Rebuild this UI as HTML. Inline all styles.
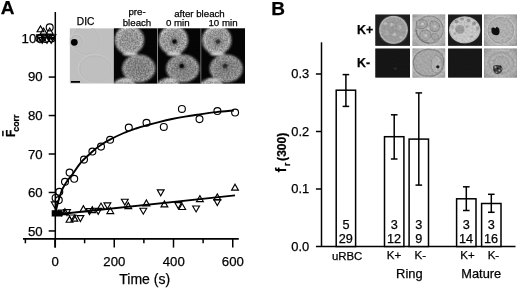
<!DOCTYPE html>
<html><head><meta charset="utf-8"><title>Figure</title>
<style>
html,body{margin:0;padding:0;background:#fff;width:520px;height:288px;overflow:hidden;}
svg{display:block;font-family:"Liberation Sans", sans-serif;will-change:transform;}
</style></head>
<body>
<svg width="520" height="288" viewBox="0 0 520 288" font-family='"Liberation Sans", sans-serif' fill="#000"><style>text{stroke:#000;stroke-width:0.25px;}</style><text x="0.63" y="14.25" font-size="19" text-anchor="start" font-weight="bold" >A</text>
<line x1="55.30" y1="12.00" x2="55.30" y2="247.60" stroke="#000" stroke-width="1.5"/>
<line x1="23.00" y1="238.80" x2="238.80" y2="238.80" stroke="#000" stroke-width="1.7"/>
<line x1="48.70" y1="38.60" x2="55.30" y2="38.60" stroke="#000" stroke-width="1.5"/>
<text x="21.59" y="42.90" font-size="13.2" text-anchor="start" font-weight="normal" >100</text>
<line x1="48.70" y1="77.07" x2="55.30" y2="77.07" stroke="#000" stroke-width="1.5"/>
<text x="27.93" y="81.25" font-size="13.2" text-anchor="start" font-weight="normal" >90</text>
<line x1="48.70" y1="115.54" x2="55.30" y2="115.54" stroke="#000" stroke-width="1.5"/>
<text x="27.93" y="119.80" font-size="13.2" text-anchor="start" font-weight="normal" >80</text>
<line x1="48.70" y1="154.01" x2="55.30" y2="154.01" stroke="#000" stroke-width="1.5"/>
<text x="27.93" y="159.10" font-size="13.2" text-anchor="start" font-weight="normal" >70</text>
<line x1="48.70" y1="192.48" x2="55.30" y2="192.48" stroke="#000" stroke-width="1.5"/>
<text x="27.93" y="197.20" font-size="13.2" text-anchor="start" font-weight="normal" >60</text>
<line x1="48.70" y1="230.95" x2="55.30" y2="230.95" stroke="#000" stroke-width="1.5"/>
<text x="27.93" y="235.60" font-size="13.2" text-anchor="start" font-weight="normal" >50</text>
<line x1="55.00" y1="238.80" x2="55.00" y2="247.60" stroke="#000" stroke-width="1.5"/>
<text x="51.53" y="266.10" font-size="13.2" text-anchor="start" font-weight="normal" >0</text>
<line x1="114.25" y1="238.80" x2="114.25" y2="247.60" stroke="#000" stroke-width="1.5"/>
<text x="103.36" y="266.10" font-size="13.2" text-anchor="start" font-weight="normal" >200</text>
<line x1="173.50" y1="238.80" x2="173.50" y2="247.60" stroke="#000" stroke-width="1.5"/>
<text x="162.79" y="266.10" font-size="13.2" text-anchor="start" font-weight="normal" >400</text>
<line x1="232.75" y1="238.80" x2="232.75" y2="247.60" stroke="#000" stroke-width="1.5"/>
<text x="221.86" y="266.10" font-size="13.2" text-anchor="start" font-weight="normal" >600</text>
<line x1="25.38" y1="238.80" x2="25.38" y2="243.30" stroke="#000" stroke-width="1.5"/>
<line x1="84.62" y1="238.80" x2="84.62" y2="243.30" stroke="#000" stroke-width="1.5"/>
<line x1="143.88" y1="238.80" x2="143.88" y2="243.30" stroke="#000" stroke-width="1.5"/>
<line x1="203.12" y1="238.80" x2="203.12" y2="243.30" stroke="#000" stroke-width="1.5"/>
<text x="119.31" y="284.20" font-size="14" text-anchor="start" font-weight="normal" >Time (s)</text>
<g transform="translate(14.7,136.5) rotate(-90)"><text x="-0.5" y="0" font-size="12.2" font-weight="bold" text-anchor="start">F</text><line x1="0.2" y1="-11.8" x2="5.7" y2="-11.8" stroke="#000" stroke-width="1.5"/><text x="4.8" y="4.1" font-size="8.8" font-weight="bold" text-anchor="start">corr</text></g>
<text x="76.84" y="25.20" font-size="10.2" text-anchor="start" font-weight="normal" >DIC</text>
<text x="128.43" y="14.60" font-size="9.7" text-anchor="start" font-weight="normal" >pre-</text>
<text x="122.71" y="25.60" font-size="9.7" text-anchor="start" font-weight="normal" >bleach</text>
<text x="174.14" y="17.30" font-size="9.7" text-anchor="start" font-weight="normal" >after bleach</text>
<text x="165.92" y="25.60" font-size="9.7" text-anchor="start" font-weight="normal" >0 min</text>
<text x="208.49" y="25.60" font-size="9.7" text-anchor="start" font-weight="normal" >10 min</text>
<defs><radialGradient id="cellg" cx="0.5" cy="0.5" r="0.5"><stop offset="0" stop-color="#8e8e8e"/><stop offset="0.72" stop-color="#989898"/><stop offset="0.9" stop-color="#acacac"/><stop offset="0.97" stop-color="#7a7a7a"/><stop offset="1" stop-color="#202020"/></radialGradient><radialGradient id="cellg2" cx="0.5" cy="0.5" r="0.5"><stop offset="0" stop-color="#7c7c7c"/><stop offset="0.72" stop-color="#868686"/><stop offset="0.9" stop-color="#9c9c9c"/><stop offset="0.97" stop-color="#6a6a6a"/><stop offset="1" stop-color="#1a1a1a"/></radialGradient><radialGradient id="spot" cx="0.5" cy="0.5" r="0.5"><stop offset="0" stop-color="#000"/><stop offset="0.3" stop-color="#000" stop-opacity="0.85"/><stop offset="0.55" stop-color="#303030" stop-opacity="0.35"/><stop offset="1" stop-color="#404040" stop-opacity="0"/></radialGradient><linearGradient id="halo" x1="0" y1="0" x2="0" y2="1"><stop offset="0" stop-color="#fff" stop-opacity="0"/><stop offset="0.6" stop-color="#fff" stop-opacity="0.7"/><stop offset="1" stop-color="#fff" stop-opacity="0"/></linearGradient><filter id="noiseA" filterUnits="userSpaceOnUse" x="113" y="28" width="133" height="56" color-interpolation-filters="sRGB"><feTurbulence type="fractalNoise" baseFrequency="0.6" numOctaves="2" seed="3" result="t"/><feColorMatrix in="t" type="matrix" values="1 0 0 0 0  1 0 0 0 0  1 0 0 0 0  0 0 0 0 1" result="g"/><feComponentTransfer in="g" result="gc"><feFuncR type="linear" slope="2.0" intercept="-0.5"/><feFuncG type="linear" slope="2.0" intercept="-0.5"/><feFuncB type="linear" slope="2.0" intercept="-0.5"/></feComponentTransfer><feComposite in="SourceGraphic" in2="gc" operator="arithmetic" k1="0.4" k2="0.8" k3="0" k4="0"/><feGaussianBlur stdDeviation="0.6"/></filter><filter id="blur1" x="-20%" y="-20%" width="140%" height="140%"><feGaussianBlur stdDeviation="0.6"/></filter><filter id="blurC" filterUnits="userSpaceOnUse" x="100" y="20" width="160" height="80"><feGaussianBlur stdDeviation="0.8"/></filter><clipPath id="c0"><rect x="69.6" y="28.2" width="43.9" height="55.5"/></clipPath><clipPath id="c1"><rect x="113.5" y="28.2" width="44" height="55.5"/></clipPath><clipPath id="c2"><rect x="157.5" y="28.2" width="43.4" height="55.5"/></clipPath><clipPath id="c3"><rect x="200.9" y="28.2" width="44.2" height="55.5"/></clipPath></defs>
<g clip-path="url(#c0)"><rect x="69.6" y="28.2" width="43.9" height="55.5" fill="#bfbfbf"/><g filter="url(#blur1)"><circle cx="85.5" cy="40" r="14.8" fill="none" stroke="#c8c8c8" stroke-width="1.0"/><circle cx="86" cy="40.5" r="13.8" fill="none" stroke="#b6b6b6" stroke-width="0.8"/><ellipse cx="95" cy="68.5" rx="16.8" ry="14" fill="none" stroke="#c8c8c8" stroke-width="1.0"/><ellipse cx="95.5" cy="69" rx="15.8" ry="13" fill="none" stroke="#b7b7b7" stroke-width="0.8"/><circle cx="76" cy="41" r="7" fill="none" stroke="#cacaca" stroke-width="1.0"/><circle cx="76.5" cy="41.5" r="6" fill="none" stroke="#b2b2b2" stroke-width="0.8"/><circle cx="74.3" cy="42.3" r="3.4" fill="#000"/></g><line x1="70.9" y1="81.9" x2="80" y2="81.9" stroke="#000" stroke-width="1.6"/></g>
<g clip-path="url(#c1)"><g filter="url(#noiseA)"><rect x="113.5" y="28.2" width="44.2" height="55.5" fill="#050505"/><g filter="url(#blurC)"><ellipse cx="138.7" cy="68.5" rx="16.9" ry="14.2" fill="url(#cellg2)"/><circle cx="129.4" cy="40" r="14.9" fill="url(#cellg)"/><circle cx="124.0" cy="93" r="15" fill="url(#cellg)"/><path d="M117.0,36 A12.5,12.5 0 0 1 127.5,27.6" fill="none" stroke="#fff" stroke-opacity="0.35" stroke-width="2"/></g></g><ellipse cx="130.0" cy="54.0" rx="7.5" ry="1.6" fill="#f4f4f4" opacity="0.85" filter="url(#blurC)"/><ellipse cx="126.5" cy="79.8" rx="6.5" ry="1.4" fill="#eeeeee" opacity="0.7" filter="url(#blurC)"/></g>
<g clip-path="url(#c2)"><g filter="url(#noiseA)"><rect x="157.5" y="28.2" width="44.2" height="55.5" fill="#050505"/><g filter="url(#blurC)"><ellipse cx="182.7" cy="68.5" rx="16.9" ry="14.2" fill="url(#cellg2)"/><circle cx="173.4" cy="40" r="14.9" fill="url(#cellg)"/><circle cx="168.0" cy="93" r="15" fill="url(#cellg)"/><path d="M161.0,36 A12.5,12.5 0 0 1 171.5,27.6" fill="none" stroke="#fff" stroke-opacity="0.35" stroke-width="2"/></g></g><ellipse cx="174.0" cy="54.0" rx="7.5" ry="1.6" fill="#f4f4f4" opacity="0.85" filter="url(#blurC)"/><ellipse cx="170.5" cy="79.8" rx="6.5" ry="1.4" fill="#eeeeee" opacity="0.7" filter="url(#blurC)"/><circle cx="174.5" cy="41.6" r="5.5" fill="url(#spot)" opacity="1.0"/><circle cx="181.7" cy="66" r="5.5" fill="url(#spot)" opacity="1.0"/></g>
<g clip-path="url(#c3)"><g filter="url(#noiseA)"><rect x="200.9" y="28.2" width="44.2" height="55.5" fill="#050505"/><g filter="url(#blurC)"><ellipse cx="226.1" cy="68.5" rx="16.9" ry="14.2" fill="url(#cellg2)"/><circle cx="216.8" cy="40" r="14.9" fill="url(#cellg)"/><circle cx="211.4" cy="93" r="15" fill="url(#cellg)"/><path d="M204.4,36 A12.5,12.5 0 0 1 214.9,27.6" fill="none" stroke="#fff" stroke-opacity="0.35" stroke-width="2"/></g></g><ellipse cx="217.4" cy="54.0" rx="7.5" ry="1.6" fill="#f4f4f4" opacity="0.85" filter="url(#blurC)"/><ellipse cx="213.9" cy="79.8" rx="6.5" ry="1.4" fill="#eeeeee" opacity="0.7" filter="url(#blurC)"/><circle cx="217.9" cy="41.6" r="5.5" fill="url(#spot)" opacity="0.72"/><circle cx="225.1" cy="66" r="5.5" fill="url(#spot)" opacity="0.72"/></g>
<line x1="157.50" y1="28.20" x2="157.50" y2="83.70" stroke="#9a9a9a" stroke-width="0.6"/>
<line x1="200.90" y1="28.20" x2="200.90" y2="83.70" stroke="#9a9a9a" stroke-width="0.6"/>
<path d="M55.60,212.50 C55.77,211.73 56.12,209.90 56.60,207.90 C57.08,205.90 57.67,203.32 58.50,200.50 C59.33,197.68 60.75,193.27 61.60,191.00 C62.45,188.73 62.62,188.65 63.60,186.90 C64.58,185.15 66.12,182.47 67.50,180.50 C68.88,178.53 69.78,177.97 71.90,175.10 C74.02,172.23 77.65,166.43 80.20,163.30 C82.75,160.17 84.77,158.62 87.20,156.30 C89.63,153.98 92.33,151.42 94.80,149.40 C97.27,147.38 99.48,145.83 102.00,144.20 C104.52,142.57 106.27,141.47 109.90,139.60 C113.53,137.73 119.45,134.85 123.80,133.00 C128.15,131.15 132.32,129.75 136.00,128.50 C139.68,127.25 141.93,126.62 145.90,125.50 C149.87,124.38 155.45,122.88 159.80,121.80 C164.15,120.72 167.80,119.87 172.00,119.00 C176.20,118.13 180.80,117.32 185.00,116.60 C189.20,115.88 192.00,115.45 197.20,114.70 C202.40,113.95 210.10,112.80 216.20,112.10 C222.30,111.40 230.87,110.77 233.80,110.50" fill="none" stroke="#000" stroke-width="1.9"/>
<line x1="55.60" y1="214.50" x2="235.00" y2="195.40" stroke="#000" stroke-width="1.9"/>
<circle cx="69.60" cy="172.60" r="3.45" fill="none" stroke="#000" stroke-width="1.15"/>
<circle cx="74.20" cy="178.80" r="3.45" fill="none" stroke="#000" stroke-width="1.15"/>
<circle cx="65.00" cy="181.80" r="3.45" fill="none" stroke="#000" stroke-width="1.15"/>
<circle cx="59.30" cy="191.80" r="3.45" fill="none" stroke="#000" stroke-width="1.15"/>
<circle cx="55.60" cy="197.90" r="3.45" fill="none" stroke="#000" stroke-width="1.15"/>
<circle cx="58.80" cy="200.10" r="3.45" fill="none" stroke="#000" stroke-width="1.15"/>
<circle cx="84.00" cy="159.60" r="3.45" fill="none" stroke="#000" stroke-width="1.15"/>
<circle cx="92.40" cy="151.50" r="3.45" fill="none" stroke="#000" stroke-width="1.15"/>
<circle cx="101.00" cy="146.60" r="3.45" fill="none" stroke="#000" stroke-width="1.15"/>
<circle cx="110.10" cy="139.80" r="3.45" fill="none" stroke="#000" stroke-width="1.15"/>
<circle cx="128.80" cy="127.50" r="3.45" fill="none" stroke="#000" stroke-width="1.15"/>
<circle cx="146.50" cy="122.80" r="3.45" fill="none" stroke="#000" stroke-width="1.15"/>
<circle cx="163.80" cy="126.90" r="3.45" fill="none" stroke="#000" stroke-width="1.15"/>
<circle cx="181.90" cy="108.90" r="3.45" fill="none" stroke="#000" stroke-width="1.15"/>
<circle cx="199.50" cy="119.10" r="3.45" fill="none" stroke="#000" stroke-width="1.15"/>
<circle cx="217.40" cy="111.00" r="3.45" fill="none" stroke="#000" stroke-width="1.15"/>
<circle cx="235.10" cy="112.50" r="3.45" fill="none" stroke="#000" stroke-width="1.15"/>
<polygon points="61.50,214.56 68.30,214.56 64.90,208.64" fill="none" stroke="#000" stroke-width="1.15" stroke-linejoin="miter"/>
<polygon points="66.10,222.26 72.90,222.26 69.50,216.34" fill="none" stroke="#000" stroke-width="1.15" stroke-linejoin="miter"/>
<polygon points="71.00,221.16 77.80,221.16 74.40,215.24" fill="none" stroke="#000" stroke-width="1.15" stroke-linejoin="miter"/>
<polygon points="80.00,211.66 86.80,211.66 83.40,205.74" fill="none" stroke="#000" stroke-width="1.15" stroke-linejoin="miter"/>
<polygon points="88.90,212.56 95.70,212.56 92.30,206.64" fill="none" stroke="#000" stroke-width="1.15" stroke-linejoin="miter"/>
<polygon points="97.60,208.96 104.40,208.96 101.00,203.04" fill="none" stroke="#000" stroke-width="1.15" stroke-linejoin="miter"/>
<polygon points="106.90,213.56 113.70,213.56 110.30,207.64" fill="none" stroke="#000" stroke-width="1.15" stroke-linejoin="miter"/>
<polygon points="124.90,208.66 131.70,208.66 128.30,202.74" fill="none" stroke="#000" stroke-width="1.15" stroke-linejoin="miter"/>
<polygon points="143.00,205.86 149.80,205.86 146.40,199.94" fill="none" stroke="#000" stroke-width="1.15" stroke-linejoin="miter"/>
<polygon points="161.00,206.86 167.80,206.86 164.40,200.94" fill="none" stroke="#000" stroke-width="1.15" stroke-linejoin="miter"/>
<polygon points="178.80,209.46 185.60,209.46 182.20,203.54" fill="none" stroke="#000" stroke-width="1.15" stroke-linejoin="miter"/>
<polygon points="196.50,201.56 203.30,201.56 199.90,195.64" fill="none" stroke="#000" stroke-width="1.15" stroke-linejoin="miter"/>
<polygon points="213.90,199.86 220.70,199.86 217.30,193.94" fill="none" stroke="#000" stroke-width="1.15" stroke-linejoin="miter"/>
<polygon points="231.60,190.16 238.40,190.16 235.00,184.24" fill="none" stroke="#000" stroke-width="1.15" stroke-linejoin="miter"/>
<polygon points="51.30,201.94 58.10,201.94 54.70,207.86" fill="none" stroke="#000" stroke-width="1.15" stroke-linejoin="miter"/>
<polygon points="68.90,215.04 75.70,215.04 72.30,220.96" fill="none" stroke="#000" stroke-width="1.15" stroke-linejoin="miter"/>
<polygon points="77.00,215.64 83.80,215.64 80.40,221.56" fill="none" stroke="#000" stroke-width="1.15" stroke-linejoin="miter"/>
<polygon points="86.10,208.64 92.90,208.64 89.50,214.56" fill="none" stroke="#000" stroke-width="1.15" stroke-linejoin="miter"/>
<polygon points="94.80,208.34 101.60,208.34 98.20,214.26" fill="none" stroke="#000" stroke-width="1.15" stroke-linejoin="miter"/>
<polygon points="104.00,202.94 110.80,202.94 107.40,208.86" fill="none" stroke="#000" stroke-width="1.15" stroke-linejoin="miter"/>
<polygon points="121.40,199.24 128.20,199.24 124.80,205.16" fill="none" stroke="#000" stroke-width="1.15" stroke-linejoin="miter"/>
<polygon points="139.90,208.29 146.70,208.29 143.30,214.21" fill="none" stroke="#000" stroke-width="1.15" stroke-linejoin="miter"/>
<polygon points="157.30,189.84 164.10,189.84 160.70,195.76" fill="none" stroke="#000" stroke-width="1.15" stroke-linejoin="miter"/>
<polygon points="174.80,202.64 181.60,202.64 178.20,208.56" fill="none" stroke="#000" stroke-width="1.15" stroke-linejoin="miter"/>
<polygon points="192.70,206.04 199.50,206.04 196.10,211.96" fill="none" stroke="#000" stroke-width="1.15" stroke-linejoin="miter"/>
<polygon points="213.90,199.64 220.70,199.64 217.30,205.56" fill="none" stroke="#000" stroke-width="1.15" stroke-linejoin="miter"/>
<rect x="51.7" y="210.2" width="10.6" height="6.3" fill="#000"/>
<polygon points="58.40,210.04 65.20,210.04 61.80,215.96" fill="none" stroke="#000" stroke-width="1.15" stroke-linejoin="miter"/>
<polygon points="63.60,209.64 70.40,209.64 67.00,215.56" fill="none" stroke="#000" stroke-width="1.15" stroke-linejoin="miter"/>
<polygon points="37.10,31.76 43.90,31.76 40.50,25.84" fill="none" stroke="#000" stroke-width="1.15" stroke-linejoin="miter"/>
<polygon points="40.20,33.96 47.00,33.96 43.60,28.04" fill="none" stroke="#000" stroke-width="1.15" stroke-linejoin="miter"/>
<polygon points="46.30,33.96 53.10,33.96 49.70,28.04" fill="none" stroke="#000" stroke-width="1.15" stroke-linejoin="miter"/>
<polygon points="36.60,34.94 43.40,34.94 40.00,40.86" fill="none" stroke="#000" stroke-width="1.15" stroke-linejoin="miter"/>
<polygon points="41.10,34.94 47.90,34.94 44.50,40.86" fill="none" stroke="#000" stroke-width="1.15" stroke-linejoin="miter"/>
<polygon points="45.40,34.94 52.20,34.94 48.80,40.86" fill="none" stroke="#000" stroke-width="1.15" stroke-linejoin="miter"/>
<polygon points="49.00,34.94 55.80,34.94 52.40,40.86" fill="none" stroke="#000" stroke-width="1.15" stroke-linejoin="miter"/>
<polygon points="38.80,37.34 45.60,37.34 42.20,43.26" fill="none" stroke="#000" stroke-width="1.15" stroke-linejoin="miter"/>
<polygon points="43.60,37.34 50.40,37.34 47.00,43.26" fill="none" stroke="#000" stroke-width="1.15" stroke-linejoin="miter"/>
<polygon points="47.80,37.34 54.60,37.34 51.20,43.26" fill="none" stroke="#000" stroke-width="1.15" stroke-linejoin="miter"/>
<circle cx="49.70" cy="27.40" r="3.45" fill="none" stroke="#000" stroke-width="1.15"/>
<circle cx="39.40" cy="38.50" r="3.45" fill="none" stroke="#000" stroke-width="1.15"/>
<circle cx="51.60" cy="38.50" r="3.45" fill="none" stroke="#000" stroke-width="1.15"/>
<circle cx="45.50" cy="39.00" r="3.45" fill="none" stroke="#000" stroke-width="1.15"/>
<text x="271.23" y="14.90" font-size="19" text-anchor="start" font-weight="bold" >B</text>
<line x1="321.50" y1="42.30" x2="321.50" y2="246.50" stroke="#000" stroke-width="1.5"/>
<line x1="315.90" y1="246.50" x2="515.50" y2="246.50" stroke="#000" stroke-width="1.7"/>
<line x1="315.90" y1="74.00" x2="321.50" y2="74.00" stroke="#000" stroke-width="1.5"/>
<text x="291.35" y="78.10" font-size="12.9" text-anchor="start" font-weight="normal" >0.3</text>
<line x1="315.90" y1="131.50" x2="321.50" y2="131.50" stroke="#000" stroke-width="1.5"/>
<text x="291.35" y="135.60" font-size="12.9" text-anchor="start" font-weight="normal" >0.2</text>
<line x1="315.90" y1="189.00" x2="321.50" y2="189.00" stroke="#000" stroke-width="1.5"/>
<text x="291.35" y="193.10" font-size="12.9" text-anchor="start" font-weight="normal" >0.1</text>
<text x="291.35" y="250.60" font-size="12.9" text-anchor="start" font-weight="normal" >0.0</text>
<rect x="336.20" y="90.20" width="19.4" height="156.30" fill="#fff" stroke="#000" stroke-width="1.5"/>
<line x1="345.90" y1="74.60" x2="345.90" y2="106.40" stroke="#000" stroke-width="1.5"/>
<line x1="342.60" y1="74.60" x2="349.20" y2="74.60" stroke="#000" stroke-width="1.5"/>
<line x1="342.60" y1="106.40" x2="349.20" y2="106.40" stroke="#000" stroke-width="1.5"/>
<text x="342.38" y="228.70" font-size="12.7" text-anchor="start" font-weight="normal" >5</text>
<text x="338.82" y="242.80" font-size="12.7" text-anchor="start" font-weight="normal" >29</text>
<rect x="384.50" y="136.70" width="19.4" height="109.80" fill="#fff" stroke="#000" stroke-width="1.5"/>
<line x1="394.20" y1="114.80" x2="394.20" y2="159.00" stroke="#000" stroke-width="1.5"/>
<line x1="390.90" y1="114.80" x2="397.50" y2="114.80" stroke="#000" stroke-width="1.5"/>
<line x1="390.90" y1="159.00" x2="397.50" y2="159.00" stroke="#000" stroke-width="1.5"/>
<text x="390.71" y="228.70" font-size="12.7" text-anchor="start" font-weight="normal" >3</text>
<text x="386.97" y="242.80" font-size="12.7" text-anchor="start" font-weight="normal" >12</text>
<rect x="409.10" y="139.10" width="19.4" height="107.40" fill="#fff" stroke="#000" stroke-width="1.5"/>
<line x1="418.80" y1="92.90" x2="418.80" y2="185.10" stroke="#000" stroke-width="1.5"/>
<line x1="415.50" y1="92.90" x2="422.10" y2="92.90" stroke="#000" stroke-width="1.5"/>
<line x1="415.50" y1="185.10" x2="422.10" y2="185.10" stroke="#000" stroke-width="1.5"/>
<text x="415.31" y="228.70" font-size="12.7" text-anchor="start" font-weight="normal" >3</text>
<text x="415.27" y="242.80" font-size="12.7" text-anchor="start" font-weight="normal" >9</text>
<rect x="456.60" y="198.80" width="19.4" height="47.70" fill="#fff" stroke="#000" stroke-width="1.5"/>
<line x1="466.30" y1="186.80" x2="466.30" y2="210.50" stroke="#000" stroke-width="1.5"/>
<line x1="463.00" y1="186.80" x2="469.60" y2="186.80" stroke="#000" stroke-width="1.5"/>
<line x1="463.00" y1="210.50" x2="469.60" y2="210.50" stroke="#000" stroke-width="1.5"/>
<text x="462.81" y="228.70" font-size="12.7" text-anchor="start" font-weight="normal" >3</text>
<text x="458.94" y="242.80" font-size="12.7" text-anchor="start" font-weight="normal" >14</text>
<rect x="481.60" y="203.50" width="19.4" height="43.00" fill="#fff" stroke="#000" stroke-width="1.5"/>
<line x1="491.30" y1="194.30" x2="491.30" y2="212.30" stroke="#000" stroke-width="1.5"/>
<line x1="488.00" y1="194.30" x2="494.60" y2="194.30" stroke="#000" stroke-width="1.5"/>
<line x1="488.00" y1="212.30" x2="494.60" y2="212.30" stroke="#000" stroke-width="1.5"/>
<text x="487.81" y="228.70" font-size="12.7" text-anchor="start" font-weight="normal" >3</text>
<text x="484.03" y="242.80" font-size="12.7" text-anchor="start" font-weight="normal" >16</text>
<text x="331.92" y="259.50" font-size="11.4" text-anchor="start" font-weight="normal" >uRBC</text>
<text x="386.72" y="259.20" font-size="11.5" text-anchor="start" font-weight="normal" >K+</text>
<text x="414.58" y="259.20" font-size="11.5" text-anchor="start" font-weight="normal" >K-</text>
<text x="460.27" y="259.20" font-size="11.5" text-anchor="start" font-weight="normal" >K+</text>
<text x="487.63" y="259.20" font-size="11.5" text-anchor="start" font-weight="normal" >K-</text>
<text x="396.12" y="277.70" font-size="12.9" text-anchor="start" font-weight="normal" >Ring</text>
<text x="461.34" y="278.40" font-size="12.8" text-anchor="start" font-weight="normal" >Mature</text>
<g transform="translate(285.7,172.4) rotate(-90)"><text x="0.17" y="0" font-size="13.8" font-weight="bold" text-anchor="start">f</text><text x="6.34" y="4.3" font-size="8.5" font-weight="bold" text-anchor="start">r</text><text x="11.5" y="0.6" font-size="12.1" font-weight="bold" text-anchor="start">(300)</text></g>
<text x="356.99" y="33.50" font-size="12.4" text-anchor="start" font-weight="bold" >K+</text>
<text x="357.04" y="66.50" font-size="12.4" text-anchor="start" font-weight="bold" >K-</text>
<defs><radialGradient id="bf1" cx="0.5" cy="0.5" r="0.5"><stop offset="0" stop-color="#979797"/><stop offset="0.8" stop-color="#9c9c9c"/><stop offset="0.93" stop-color="#b4b4b4"/><stop offset="1" stop-color="#404040"/></radialGradient><radialGradient id="bf3" cx="0.5" cy="0.5" r="0.5"><stop offset="0" stop-color="#c2c2c2"/><stop offset="0.85" stop-color="#c6c6c6"/><stop offset="0.94" stop-color="#b4b4b4"/><stop offset="1" stop-color="#3a3a3a"/></radialGradient><radialGradient id="vig" cx="0.5" cy="0.5" r="0.72"><stop offset="0.7" stop-color="#000" stop-opacity="0"/><stop offset="1" stop-color="#000" stop-opacity="0.18"/></radialGradient><filter id="noiseB" filterUnits="userSpaceOnUse" x="374" y="13" width="146" height="66" color-interpolation-filters="sRGB"><feTurbulence type="fractalNoise" baseFrequency="0.5" numOctaves="2" seed="7" result="t"/><feColorMatrix in="t" type="matrix" values="1 0 0 0 0  1 0 0 0 0  1 0 0 0 0  0 0 0 0 1" result="g"/><feComponentTransfer in="g" result="gc"><feFuncR type="linear" slope="2.0" intercept="-0.5"/><feFuncG type="linear" slope="2.0" intercept="-0.5"/><feFuncB type="linear" slope="2.0" intercept="-0.5"/></feComponentTransfer><feComposite in="SourceGraphic" in2="gc" operator="arithmetic" k1="0.14" k2="0.9299999999999999" k3="0" k4="0"/><feGaussianBlur stdDeviation="0.5"/></filter><filter id="blurB" x="-10%" y="-10%" width="120%" height="120%"><feGaussianBlur stdDeviation="0.7"/></filter></defs>
<g filter="url(#noiseB)">
<rect x="375.3" y="14.5" width="34.70" height="31.30" fill="#1e1e1e"/>
<g filter="url(#blurB)">
<path d="M393.5,15.4 C403,15.2 408.4,21 408.3,30 C408.2,39.5 402.5,44.4 393.5,44.3 C384.5,44.2 378.7,39 378.7,30 C378.8,21 384,15.6 393.5,15.4 Z" fill="url(#bf1)"/>
<ellipse cx="385.5" cy="23.5" rx="1.8" ry="1.6" fill="#fff" opacity="0.35"/>
<ellipse cx="391.8" cy="24.5" rx="1.6" ry="1.5" fill="#fff" opacity="0.4"/>
<ellipse cx="394.6" cy="34.6" rx="2.0" ry="1.7" fill="#fff" opacity="0.35"/>
<ellipse cx="399.5" cy="27.5" rx="2.2" ry="2.5" fill="#fff" opacity="0.2"/>
<ellipse cx="387" cy="33" rx="2.5" ry="2" fill="#fff" opacity="0.15"/>
<ellipse cx="401" cy="37.5" rx="1.6" ry="1.4" fill="#fff" opacity="0.25"/>
</g>
<rect x="412.5" y="14.5" width="32.70" height="31.30" fill="#b3b3b3"/>
<rect x="412.5" y="14.5" width="32.70" height="31.30" fill="url(#vig)"/>
<g filter="url(#blurB)">
<circle cx="429.5" cy="29.6" r="13.6" fill="#acacac" stroke="#8a8a8a" stroke-width="1.1"/>
<path d="M416.2,30 A13.6,13.6 0 0 0 429.5,43.2" fill="none" stroke="#767676" stroke-width="1.2"/>
<path d="M416.7,21.5 C418.5,19.5 424.5,18.6 426.6,21.5 C428.5,24 427.5,27.8 423,28.6 C420,29 417.2,28.6 416.4,26 Z" fill="#a2a2a2" stroke="#858585" stroke-width="1"/>
<path d="M430.9,21.5 C433.5,20.6 438.2,21.5 439.4,25 C440.5,28.6 438,31.5 435.2,31.5 C432.5,31.5 430.2,30.3 430.2,27.5 C430.2,25 429.6,23 430.9,21.5 Z" fill="#a4a4a4" stroke="#868686" stroke-width="1"/>
<path d="M421,31.5 C423.5,30 427.5,29.6 429.5,31.5 C431.4,33.5 431.2,37 428.5,39.5 C426,41.5 422,40.6 420.6,38.3 C419.4,36 419.6,33 421,31.5 Z" fill="#a6a6a6" stroke="#888" stroke-width="1"/>
<path d="M432,34 C434.5,33 438,34 438.5,36.5 C438.6,39 436,40.8 433.5,40 C431.6,39 431,35.5 432,34 Z" fill="#a4a4a4" stroke="#8a8a8a" stroke-width="0.9"/>
<ellipse cx="422.5" cy="24" rx="1.8" ry="1.5" fill="#cfcfcf" opacity="0.7"/>
<ellipse cx="435" cy="26.5" rx="1.8" ry="1.6" fill="#cccccc" opacity="0.6"/>
<ellipse cx="425.5" cy="35.5" rx="1.8" ry="1.5" fill="#cccccc" opacity="0.6"/>
<ellipse cx="428.5" cy="28.5" rx="1.3" ry="1.2" fill="#c8c8c8" opacity="0.6"/>
</g>
<rect x="448.1" y="14.5" width="33.90" height="31.30" fill="#1c1c1c"/>
<g filter="url(#blurB)">
<ellipse cx="464.7" cy="29.9" rx="16.1" ry="13.9" fill="url(#bf3)"/>
<ellipse cx="459.8" cy="29.4" rx="4.6" ry="4.3" fill="#8e8e8e" opacity="0.8"/>
<ellipse cx="456.5" cy="21.5" rx="2.0" ry="1.8" fill="#606060" opacity="0.5"/>
<ellipse cx="462" cy="19.2" rx="2.0" ry="1.5" fill="#606060" opacity="0.45"/>
<ellipse cx="468.5" cy="20.5" rx="2.0" ry="1.7" fill="#606060" opacity="0.5"/>
<ellipse cx="474" cy="23.5" rx="2.0" ry="2.0" fill="#606060" opacity="0.5"/>
<ellipse cx="477.5" cy="28.5" rx="1.4" ry="2.0" fill="#606060" opacity="0.4"/>
<ellipse cx="455" cy="33.5" rx="1.4" ry="1.6" fill="#606060" opacity="0.25"/>
<ellipse cx="467" cy="26.5" rx="1.5" ry="1.3" fill="#606060" opacity="0.35"/>
<ellipse cx="452.5" cy="27" rx="1.2" ry="2.0" fill="#606060" opacity="0.3"/>
<ellipse cx="471.5" cy="36.5" rx="1.8" ry="1.5" fill="#606060" opacity="0.2"/>
</g>
<rect x="484.1" y="14.5" width="32.80" height="31.30" fill="#b0b0b0"/>
<rect x="484.1" y="14.5" width="32.80" height="31.30" fill="url(#vig)"/>
<g filter="url(#blurB)">
<circle cx="500.9" cy="30.4" r="14.0" fill="#aeaeae" stroke="#c2c2c2" stroke-width="1.0"/>
<circle cx="500.9" cy="30.4" r="12.8" fill="none" stroke="#999" stroke-width="0.8"/>
<path d="M491.4,29.5 C491.2,27.6 492.6,27.0 494,27.6 L495.2,28.4 L496.6,26.9 C498,27 499.2,28.2 499.4,30 C499.9,32.4 499.4,34.6 497.3,35.2 C495,35.6 492.3,34.6 491.6,32.3 Z" fill="#0c0c0c"/>
</g>
<rect x="375.3" y="48.5" width="34.70" height="29.10" fill="#151515"/>
<ellipse cx="395.3" cy="68.6" rx="1.8" ry="1.2" fill="#2c2c2c" filter="url(#blurB)"/>
<rect x="412.5" y="48.5" width="32.70" height="29.10" fill="#b6b6b6"/>
<rect x="412.5" y="48.5" width="32.70" height="29.10" fill="url(#vig)"/>
<g filter="url(#blurB)">
<path d="M428.6,49.4 C437.5,49.2 444,53.5 443.8,62 C443.6,71 438,76.2 428.5,76.2 C419.5,76.2 413.4,70.8 413.4,62.8 C413.4,55 419.5,49.6 428.6,49.4 Z" fill="#a6a6a6" stroke="#858585" stroke-width="1.3"/>
<ellipse cx="436.6" cy="64.3" rx="5.6" ry="8.8" fill="#b0b0b0" stroke="#8e8e8e" stroke-width="0.9"/>
<circle cx="437.8" cy="66.8" r="1.6" fill="#1c1c1c"/>
</g>
<rect x="448.1" y="48.5" width="33.90" height="29.10" fill="#171717"/>
<rect x="484.1" y="48.5" width="32.80" height="29.10" fill="#a9a9a9"/>
<rect x="484.1" y="48.5" width="32.80" height="29.10" fill="url(#vig)"/>
<g filter="url(#blurB)">
<ellipse cx="501" cy="63" rx="15" ry="13" fill="none" stroke="#b6b6b6" stroke-width="0.9"/>
<ellipse cx="501" cy="63" rx="12.5" ry="10.5" fill="none" stroke="#9a9a9a" stroke-width="0.9"/>
<ellipse cx="501" cy="63" rx="10" ry="8.3" fill="none" stroke="#b4b4b4" stroke-width="0.9"/>
<ellipse cx="501" cy="63" rx="7.5" ry="6.2" fill="none" stroke="#9c9c9c" stroke-width="0.9"/>
<path d="M493,67.5 C493,65.4 495,64.6 497,65 C499.5,64.7 502.2,66 502.4,68.8 C502.6,71.6 500.2,74 497.4,74 C494.8,74 493,71.5 493,67.5 Z" fill="#404040"/>
<circle cx="495.4" cy="67.2" r="1.1" fill="#9a9a9a"/>
<circle cx="499.3" cy="70.4" r="1.0" fill="#9a9a9a"/>
<circle cx="496.5" cy="72.3" r="0.9" fill="#8a8a8a"/>
<circle cx="500.5" cy="66.4" r="0.9" fill="#111"/>
<circle cx="497.8" cy="68.5" r="1.0" fill="#151515"/>
<circle cx="494.6" cy="70.3" r="0.8" fill="#1a1a1a"/>
<circle cx="501.4" cy="69" r="0.7" fill="#7a7a7a"/>
</g>
</g></svg>
</body></html>
